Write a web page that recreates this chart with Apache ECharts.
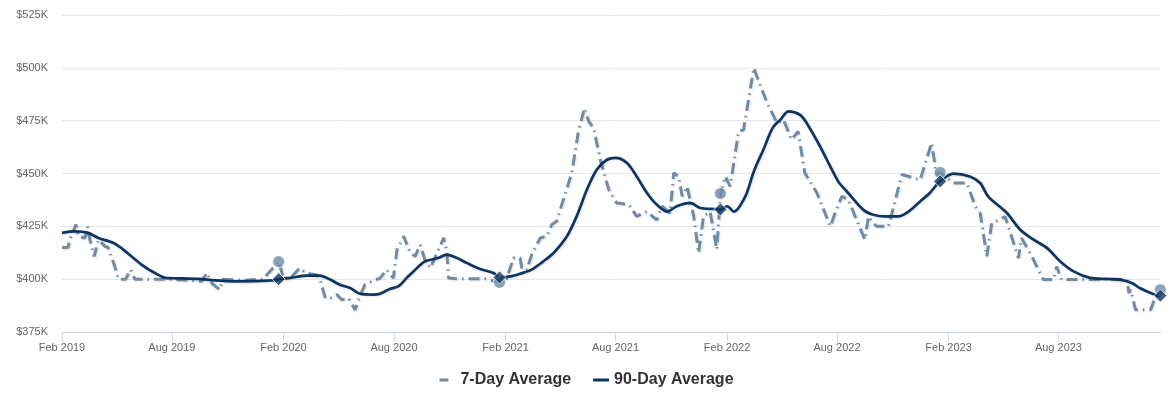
<!DOCTYPE html>
<html>
<head>
<meta charset="utf-8">
<script src="https://cdn.jsdelivr.net/npm/echarts@6/dist/echarts.min.js"></script>
<style>
html,body{margin:0;padding:0;background:#fff;}
#chart{width:1173px;height:393px;}
</style>
</head>
<body>
<div id="chart"></div>
<script>
// 7-Day Average (values in $K)
const dates7 = [
'2019-02-01','2019-02-11','2019-02-14','2019-02-24','2019-02-28','2019-03-11','2019-03-15','2019-03-19','2019-03-26','2019-04-02',
'2019-04-13','2019-04-18','2019-04-29','2019-05-05','2019-05-17','2019-05-25','2019-06-01','2019-07-21','2019-08-31','2019-09-19',
'2019-09-28','2019-10-06','2019-10-19','2019-10-24','2019-11-30','2019-12-29','2020-01-24','2020-02-01','2020-02-12','2020-02-28',
'2020-03-08','2020-03-27','2020-04-01','2020-04-10','2020-04-18','2020-04-29','2020-05-07','2020-05-18','2020-05-29','2020-06-06',
'2020-06-14','2020-06-26','2020-07-09','2020-07-20','2020-07-31','2020-08-06','2020-08-17','2020-08-28','2020-09-05','2020-09-13',
'2020-09-21','2020-09-30','2020-10-22','2020-10-27','2020-10-30','2020-11-15','2020-12-29','2021-01-22','2021-02-03','2021-02-14',
'2021-02-25','2021-02-28','2021-03-08','2021-03-16','2021-03-30','2021-04-10','2021-04-18','2021-04-26','2021-05-21','2021-06-01',
'2021-06-11','2021-06-18','2021-06-26','2021-07-07','2021-07-21','2021-08-03','2021-08-23','2021-09-05','2021-09-22','2021-10-08',
'2021-10-17','2021-10-30','2021-11-05','2021-11-13','2021-11-19','2021-11-27','2021-12-08','2021-12-16','2021-12-24','2022-01-04',
'2022-01-15','2022-01-21','2022-01-29','2022-02-06','2022-02-20','2022-02-28','2022-03-17','2022-03-25','2022-04-08','2022-04-24',
'2022-05-05','2022-05-18','2022-05-29','2022-06-09','2022-06-29','2022-07-21','2022-07-31','2022-08-09','2022-08-20','2022-08-31',
'2022-09-16','2022-09-22','2022-10-05','2022-10-25','2022-11-16','2022-12-16','2023-01-04','2023-01-12','2023-01-18','2023-02-09',
'2023-03-03','2023-03-17','2023-03-25','2023-04-05','2023-04-13','2023-04-27','2023-05-05','2023-05-27','2023-06-01','2023-06-18',
'2023-07-07','2023-07-24','2023-07-29','2023-08-06','2023-11-22','2023-11-25','2023-11-28','2023-12-06','2023-12-31','2024-01-05',
'2024-01-16'
];
const values7 = [
415,415,419,425.8,420.3,419.5,425,418.7,410.8,418.7,
415.5,415,406,400,400,404.5,400,400,399.5,399,
403,398,395,400,399.5,400,408.3,400.5,400.5,405.3,
403,402,400,391,391,392.7,390.3,391,385.5,392,
397.4,399,400.5,404.5,400.5,414,420.3,412.4,410.8,416.3,
409.2,405.3,419.5,413.2,400.5,400.2,400.2,398.5,400.5,410,
410,404.5,404.5,411.6,419.5,420.3,425.8,427.4,450.3,470,
481,474.7,471.5,456.5,442.4,436,435.3,429.7,432,428,
434.5,431.3,450.3,448.6,439.2,443.9,429.7,412.4,429.7,432,
414,440.5,448.6,443.9,470,470.7,500,493.6,483.4,474,
475.5,466,469.9,450.3,440.8,425,432.9,439.2,437.6,429.7,
418.7,429.7,425,425,449.5,447,464.5,449.5,450.5,445.5,
445.5,434.5,431.3,410.8,426.6,428.2,429.7,410,419.5,410.8,
399.8,399.8,406,399.8,400,393.5,395,385.5,385.5,389.5,
395
];

// 90-Day Average (values in $K)
const dates90 = [
'2019-02-01','2019-02-22','2019-03-16','2019-04-02','2019-04-27','2019-05-13','2019-06-12','2019-07-04','2019-07-24','2019-08-12',
'2019-09-14','2019-10-11','2019-11-13','2020-01-15','2020-01-24','2020-02-12','2020-03-10','2020-04-01','2020-04-18','2020-05-04',
'2020-05-21','2020-06-06','2020-06-28','2020-07-09','2020-07-26','2020-08-08','2020-08-22','2020-09-08','2020-09-21','2020-10-13',
'2020-10-27','2020-11-13','2020-11-29','2020-12-21','2021-01-12','2021-01-22','2021-02-09','2021-02-25','2021-03-16','2021-04-04',
'2021-04-21','2021-05-13','2021-05-29','2021-06-15','2021-07-01','2021-07-18','2021-08-01','2021-08-20','2021-09-05','2021-09-22',
'2021-10-08','2021-10-25','2021-11-10','2021-12-02','2021-12-19','2022-01-10','2022-01-21','2022-02-01','2022-02-12','2022-03-03',
'2022-03-17','2022-04-03','2022-04-17','2022-04-30','2022-05-13','2022-06-01','2022-06-12','2022-07-04','2022-08-03','2022-08-17',
'2022-09-13','2022-09-30','2022-10-19','2022-11-10','2022-11-27','2022-12-16','2023-01-01','2023-01-18','2023-02-09','2023-03-08',
'2023-03-25','2023-04-07','2023-05-08','2023-05-30','2023-06-21','2023-07-13','2023-08-04','2023-08-26','2023-09-22','2023-10-19',
'2023-11-10','2023-11-30','2023-12-13','2024-01-04','2024-01-16'
];
const values90 = [
421.9,422.6,421.9,419.5,417.1,414,406.9,402.9,400.5,400.4,
400.1,399.4,399,399.4,400,400.6,401.7,401.7,399.8,397.4,
395.8,393.1,392.7,393.1,395.5,396.6,400.6,405.3,408.4,410,
411.6,410,407.7,404.8,402.9,400.8,401.3,402.6,404.5,408.4,
412.4,420.3,429.7,442.4,451.8,456.5,457.4,455,448.6,440.8,
435.3,432,434.5,436.1,433.7,433.2,433,434.5,432,439.2,
451,462.1,471.6,475.5,479.4,477.8,473.9,462.9,446.3,441.6,
432.9,430.5,429.7,429.7,432,436.8,440.8,446.3,449.9,448.6,
445.5,439.2,431.3,423.4,418.7,414.8,408.4,403.7,400.6,400.1,
399.8,398.2,395.8,393,392.2
];

// Highlighted weeks (same week each January)
const markerDates = ['2020-01-24','2021-01-22','2022-01-21','2023-01-18','2024-01-16'];
const marker7 = [408.3, 398.5, 440.5, 450.5, 395];
const marker90 = [400, 400.8, 433, 446.3, 392.2];

// X axis tick dates
const tickDates = ['2019-02-01','2019-08-01','2020-02-01','2020-08-01','2021-02-01','2021-08-01','2022-02-01','2022-08-01','2023-02-01','2023-08-01'];
const monthNames = ['Jan','Feb','Mar','Apr','May','Jun','Jul','Aug','Sep','Oct','Nov','Dec'];

const C7 = '#6f8ba5';
const C90 = '#0d3561';

const toTs = d => new Date(d + 'T00:00:00Z').getTime();
const zip = (ds, vs) => ds.map((d, i) => [toTs(d), vs[i]]);
const tickTs = tickDates.map(toTs);

const chart = echarts.init(document.getElementById('chart'), null, {renderer: 'canvas'});
chart.setOption({
  animation: false,
  backgroundColor: '#ffffff',
  textStyle: {fontFamily: '"Liberation Sans", Arial, sans-serif'},
  grid: {left: 62, right: 12, top: 15, bottom: 61, containLabel: false},
  legend: {
    top: 367,
    left: 'center',
    itemWidth: 16,
    itemHeight: 10,
    itemGap: 22,
    textStyle: {fontSize: 16, fontWeight: 'bold', color: '#333333', fontFamily: '"Liberation Sans", Arial, sans-serif'},
    data: [
      {name: '7-Day Average', icon: 'path://M0,0 L9,0 L9,3 L0,3 Z M15.9,0 L16,0 L16,3 L15.9,3 Z', itemStyle: {color: C7}},
      {name: '90-Day Average', icon: 'path://M0,0 L16,0 L16,3 L0,3 Z', itemStyle: {color: C90}}
    ]
  },
  xAxis: {
    type: 'value',
    min: toTs('2019-02-01'),
    max: toTs('2024-01-17'),
    axisLine: {show: true, lineStyle: {color: '#ccd6eb', width: 1}},
    axisTick: {show: true, length: 9, lineStyle: {color: '#ccd6eb'}, customValues: tickTs},
    splitLine: {show: false},
    axisLabel: {
      customValues: tickTs,
      color: '#666666',
      fontSize: 11,
      margin: 10,
      hideOverlap: false,
      formatter: function (v) {
        const d = new Date(v);
        return monthNames[d.getUTCMonth()] + ' ' + d.getUTCFullYear();
      }
    }
  },
  yAxis: {
    type: 'value',
    min: 375,
    max: 525,
    interval: 25,
    axisLine: {show: false},
    axisTick: {show: false},
    splitLine: {lineStyle: {color: '#e6e6e6', width: 1}},
    axisLabel: {color: '#666666', fontSize: 11, margin: 14, formatter: v => '$' + v + 'K'}
  },
  series: [
    {
      name: '7-Day Average',
      type: 'line',
      data: zip(dates7, values7),
      symbol: 'none',
      z: 2,
      lineStyle: {color: C7, width: 3, type: [11, 5, 1.5, 5], shadowColor: 'rgba(0,0,0,0.12)', shadowBlur: 2, shadowOffsetX: 1, shadowOffsetY: 1},
      itemStyle: {color: C7}
    },
    {
      name: '90-Day Average',
      type: 'line',
      data: zip(dates90, values90),
      symbol: 'none',
      smooth: 0.3,
      z: 3,
      lineStyle: {color: C90, width: 2.7, shadowColor: 'rgba(0,0,0,0.12)', shadowBlur: 2, shadowOffsetX: 1, shadowOffsetY: 1},
      itemStyle: {color: C90}
    },
    {
      name: '7-Day marker',
      type: 'scatter',
      data: zip(markerDates, marker7),
      symbol: 'circle',
      symbolSize: 12,
      z: 4,
      itemStyle: {color: C7, borderColor: '#ffffff', borderWidth: 1}
    },
    {
      name: '90-Day marker',
      type: 'scatter',
      data: zip(markerDates, marker90),
      symbol: 'diamond',
      symbolSize: [13, 13],
      z: 5,
      itemStyle: {color: C90, borderColor: '#ffffff', borderWidth: 1}
    }
  ]
});
</script>
</body>
</html>
